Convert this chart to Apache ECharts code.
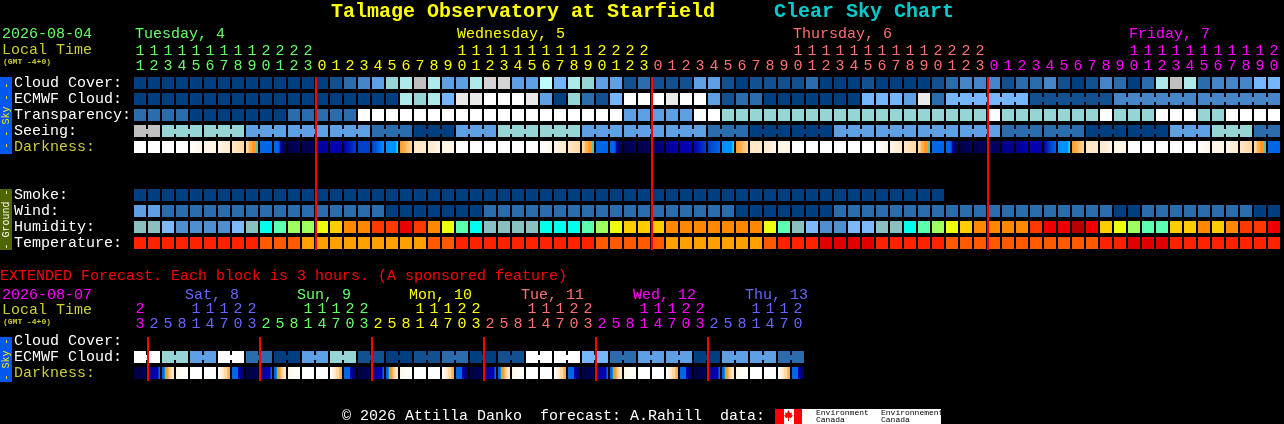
<!DOCTYPE html>
<html><head><meta charset="utf-8">
<style>html,body{margin:0;padding:0;background:#000;overflow:hidden}#c{width:1284px;height:424px}</style>
<script src="https://cdn.jsdelivr.net/npm/echarts@6/dist/echarts.min.js"></script>
</head><body><div id="c"></div>
<script>
// ---------- data ----------
const hours=[11,12,13,14,15,16,17,18,19,20,21,22,23,
 0,1,2,3,4,5,6,7,8,9,10,11,12,13,14,15,16,17,18,19,20,21,22,23,
 0,1,2,3,4,5,6,7,8,9,10,11,12,13,14,15,16,17,18,19,20,21,22,23,
 0,1,2,3,4,5,6,7,8,9,10,11,12,13,14,15,16,17,18,19,20];
const extHours=[23,2,5,8,11,14,17,20,23,2,5,8,11,14,17,20,23,2,5,8,11,14,17,20,23,
 2,5,8,11,14,17,20,23,2,5,8,11,14,17,20,23,2,5,8,11,14,17,20];
const rowLabels=['Cloud Cover:','ECMWF Cloud:','Transparency:','Seeing:','Darkness:','','','Smoke:','Wind:','Humidity:','Temperature:'];
const extRowLabels=['Cloud Cover:','ECMWF Cloud:','Darkness:'];
const dayLabels=['Tuesday, 4','Wednesday, 5','Thursday, 6','Friday, 7'];
const extDayLabels=['Sat, 8','Sun, 9','Mon, 10','Tue, 11','Wed, 12','Thu, 13'];

const cloudCover=[0,0,0,0,0,0,0,0,0,0, 0,0,0,0,1,2,3,4,6,7, 11,7,4,4,7,12,12,4,4,8, 5,7,6,4,4,1,2,1,1,1,
 4,4,1,0,1,1,1,1,2,0, 0,0,1,0,0,0,0,1,2,3, 3,3,1,2,2,3,1,0,1,3, 2,0,2,7,11,7,2,3,3,3,5,5];
const ecmwfCloud=[0,0,0,0,0,0,0,0,0,0, 0,0,0,0,0,0,0,0,0,7, 6,7,5,9,9,10,10,10,9,4, 0,6,2,1,5,10,10,10,9,10,
 10,4,1,2,2,0,0,0,0,0, 0,0,5,5,5,4,9,2,5,5, 5,5,5,5,1,1,1,1,1,1, 3,3,3,3,3,3,3,3,3,3,3,3];
const ecmwfBlocks=[1,1,1,1,1,1,1,1,1,1,1,1,1,1,1,1,1,1,1,1,1,1,1,1,1,1,1,1,1,
 1,1,1,1,1,1,1,1,1,1,1,1,1,1,1,1,1,1,1,1,1,1,1,1,1,1,1,1,1,6,6,6,6];
const transparency=[2,2,2,2,0,0,0,0,0,0, 0,2,2,2,2,2,10,10,10,10, 10,10,10,10,10,10,10,10,10,10, 10,10,10,10,10,4,4,4,4,4,
 10,10,6,6,6,6,6,6,6,6, 6,6,6,6,6,6,6,6,6,6, 6,10,6,6,6,6,6,6,6,10, 6,6,6,10,10,10,6,6,10,10,10,10];
const seeing=[11,11, 6,6,6, 6,6,6, 4,4,4, 4,4,4, 4,4,4, 2,2,2, 0,0,0, 4,4,4, 6,6,6, 6,6,6, 4,4,4, 4,4,4, 4,4,4, 2,2,2,
 0,0,0, 0,0,0, 4,4,4, 4,4,4, 4,4,4, 4,4,4, 2,2,2, 2,2,2, 0,0,0, 0,0,0, 4,4,4, 6,6,6, 2,2];
const seeingBlocks=[2,3,3,3,3,3,3,3,3,3,3,3,3,3,3,3,3,3,3,3,3,3,3,3,3,3,3,2];
const smoke=[0,0,0,0,0,0,0,0,0,0,0,0,0,0,0,0,0,0,0,0,0,0,0,0,0,0,0,0,0,0,0,0,0,0,0,0,0,0,0,0,0,0,0,0,0,0,0,0,0,0,0,0,0,0,0,0,0,0];
const wind=[4,4,2,2,2,2,2,2,2,2, 2,2,2,2,2,2,2,2,0,0, 0,0,0,0,0,2,2,2,2,2, 2,2,2,2,2,2,2,2,2,2,
 2,2,2,0,0,0,0,0,0,0, 2,2,2,2,2,2,2,2,2,2, 2,2,2,2,2,2,2,2,2,2, 0,0,2,2,2,2,2,2,2,2,0,0];
const humidity=[2,2,1,0,0,0,0,1,2,3, 4,5,5,6,7,8,8,9,9,10, 9,8,6,4,3,2,2,2,2,3, 3,3,4,5,6,7,7,7,8,8,
 8,8,8,8,8,6,4,2,1,0, 0,1,1,2,2,3,4,5,6,7, 8,8,8,8,9,10,10,11,10,7, 6,5,4,4,7,7,8,7,8,9,9,10];
const temperature=[1,1,1,1,1,1,1,1,1,2, 2,2,3,3,3,3,3,3,3,3, 3,2,2,1,1,1,1,1,1,1, 1,1,1,2,2,2,2,2,3,3,
 3,3,3,3,3,2,1,1,1,0, 0,0,0,1,1,1,1,1,2,2, 2,2,2,2,2,2,2,2,2,1, 1,0,0,0,1,1,1,1,1,1,1,1];
const duskLight=[3,3,3,4,4,4,5,5,5,5,6,6];
const nightfall=[8,8,8,8,8,9,10,11,12,12,12,12];
const preDawn=[7,7,7,7,7,7,7,7,7,7,6,6];
const darkness=[[0],[0],[0],[0],[0,1],[1],[1,2],[2,3],duskLight,[8],nightfall,[13,12],[13,12],[11,10],[10],[10,9],[9],[9,8,7],preDawn,[5,3],
 [2],[2,1],[1],[0],[0],[0],[0],[0],[0],[0,1],[1,2],[2,3],duskLight,[8],nightfall,[13,12],[13,12],[12,11],[11,10],[10],
 [10,9],[9,8],preDawn,[5,3],[2],[2,1],[1],[0],[0],[0],[0],[0],[0],[0,1],[1,2],[2,3],duskLight,[8],nightfall,[13,12],
 [13,12],[12],[11],[11,10],[10],[10,9,8],preDawn,[5,3],[2],[2,1],[1],[0],[0],[0],[0],[0],[0,1],[1],[1,2],[2,3],duskLight,[8]];
const extEcmwf=[10,10,6,6,4,4,10,10,2,2,0,0,4,4,6,6,1,1,0,0,1,1,2,2,0,0,1,1,10,10,10,10,5,5,2,2,4,4,4,4,0,0,4,4,4,4,2,2];
const extBlocks=[2,2,2,2,2,2,2,2,2,2,2,2,2,2,2,2,2,2,2,2,2,2,2,2];
const eA=[13,13,12],eB=[12,12,11,11,11,10,10,10,10,10,8,8],eC=[8,8,8,6,5,5,4,3,3,2,2,2],eD=[1,0],eE=[0],eF=[0,0,1,1,2,2,3,3,3,4,4,5],eG=[8,8,8,8,8,8,10,10,11,12,12,12];
const extDarkness=[eA,eB,eC,eD,eE,eE,eF,eG, eA,eB,eC,eD,eE,eE,eF,eG, eA,eB,eC,eD,eE,eE,eF,eG, eA,eB,eC,eD,eE,eE,eF,eG, eA,eB,eC,eD,eE,eE,eF,eG, eA,eB,eC,eD,eE,eE,eF,eG];

// ---------- styles ----------
const skyColors=['#003f7f','#13508f','#2b6cad','#4585c8','#5f9fe3','#75b5fb','#95d5d5','#ade9e9','#bdfdfd','#e9e9e9','#ffffff','#c0c0c0','#d4d4d4'];
const humColors=['#4f8fd0','#7fb8f8','#8bc0c0','#00ffee','#5cffb0','#a0ff60','#eeff10','#ffcc00','#ff8800','#ff3800','#ee0000','#b80000'];
const tempColors=['#e00000','#ff2200','#ff5a00','#ffa000'];
const darkColors=['#ffffff','#fff6e8','#ffe8c8','#ffd8a0','#ffb050','#ff9a20','#00ddff','#0090ff','#0066e8','#0040c8','#0000b0','#000090','#000060','#000048'];
const dayColors=['#66ff66','#ffff00','#ff7070','#ff00ff'];
const extDayColors=['#ff00ff','#6666ff','#66ff66','#ffff00','#ff7070','#ff00ff','#6666ff'];
const mono='"Liberation Mono",monospace';
const OLIVE='#cccc33';

function dayIndex(list){let d=0;return list.map((h,i)=>{if(i&&h<list[i-1])d++;return d;});}
function xData(list,cols){const di=dayIndex(list);return list.map((h,i)=>({value:String(h),textStyle:{color:cols[di[i]],align:'center',verticalAlign:'bottom'}}));}
function midnights(list){const r=[];list.forEach((h,i)=>{if(i&&h<list[i-1])r.push([i]);});return r;}
function blockFlags(blocks){const f=[];blocks.forEach(n=>{for(let k=0;k<n;k++)f.push(k<n-1?1:0);});return f;}
function rowData(vals,row,cols,flags){return vals.map((v,i)=>[i,row,cols[v],flags?flags[i]:0]);}
function darkData(vals,row){return vals.map((s,i)=>[i,row,s.join(','),0]);}

function fillOf(v){
  if(v.indexOf(',')<0&&v.charAt(0)==='#')return v;
  const s=v.split(',').map(Number);
  if(s.length===1)return darkColors[s[0]];
  return new echarts.graphic.LinearGradient(0,0,1,0,s.map((k,j)=>({offset:j/(s.length-1),color:darkColors[k]})));
}
function renderCell(p,api){
  const c=api.coord([api.value(0),api.value(1)]);
  const v=String(api.value(2));
  const f=fillOf(v);
  const kids=[{type:'rect',shape:{x:c[0]-6,y:c[1]-6,width:12,height:12},style:{fill:f}}];
  if(api.value(3))kids.push({type:'rect',shape:{x:c[0]+6,y:c[1]-2,width:2,height:5},style:{fill:f}});
  return {type:'group',children:kids};
}
function renderLine(y0,y1){return function(p,api){
  const c=api.coord([api.value(0),0]);
  return {type:'rect',shape:{x:c[0]-7,y:y0,width:2,height:y1-y0},style:{fill:'#ff0000'}};
};}
function cellSeries(data,gi){return {type:'custom',xAxisIndex:gi,yAxisIndex:gi,data:data,renderItem:renderCell,encode:{x:0,y:1},silent:true,animation:false,z:2,dimensions:[{name:'x'},{name:'y'},{name:'v',type:'ordinal'},{name:'b'}]};}
function lineSeries(data,gi,y0,y1){return {type:'custom',xAxisIndex:gi,yAxisIndex:gi,data:data,renderItem:renderLine(y0,y1),encode:{x:0},silent:true,animation:false,z:5};}
function xAxis(list,cols,gi){return {type:'category',gridIndex:gi,position:'top',data:xData(list,cols),axisLine:{show:false},axisTick:{show:false},splitLine:{show:false},
 axisLabel:{interval:0,hideOverlap:false,margin:1,fontFamily:mono,fontSize:15,lineHeight:15,
  formatter:v=>{const h=+v;return (h>=10?Math.floor(h/10):' ')+'\n'+(h%10);}}};}
function yAxis(list,gi){return {type:'category',gridIndex:gi,inverse:true,data:list.map(t=>({value:t,textStyle:{color:t==='Darkness:'?OLIVE:'#ffffff',align:'left',verticalAlign:'middle',padding:[0,0,4,0]}})),axisLine:{show:false},axisTick:{show:false},splitLine:{show:false},
 axisLabel:{interval:0,hideOverlap:false,margin:119,fontFamily:mono,fontSize:15}};}

function txt(x,y,t,fill,size,bold,rot){return {type:'text',x:x,y:y,rotation:rot||0,silent:true,z:10,style:{text:t,fill:fill,font:(bold?'bold ':'')+size+'px '+mono,textAlign:rot?'center':'left',textVerticalAlign:'middle'}};}
function box(x,y,w,h,f){return {type:'rect',silent:true,z:9,shape:{x:x,y:y,width:w,height:h},style:{fill:f}};}
const UP=Math.PI/2;
const dayX=[135,457,793,1129], extDayX=[185,297,409,521,633,745];
const graphic=[
 txt(331,12,'Talmage Observatory at Starfield','#ffff00',20,true),
 txt(774,12,'Clear Sky Chart','#00cccc',20,true),
 txt(2,34,'2026-08-04','#66ff66',15),
 txt(2,50,'Local Time',OLIVE,15),
 txt(3,62,'(GMT -4+0)',OLIVE,8,true),
 txt(0,276,'EXTENDED Forecast. Each block is 3 hours. (A sponsored feature)','#ff0000',15),
 txt(2,295,'2026-08-07','#ff00ff',15),
 txt(2,310,'Local Time',OLIVE,15),
 txt(3,322,'(GMT -4+0)',OLIVE,8,true),
 box(0,77,12,77,'#0058ee'), txt(6,115.5,'- - Sky - -','#ffee00',10,false,UP),
 box(0,189,12,61,'#4f6600'), txt(6,219.5,'- Ground -','#ffffff',10,false,UP),
 box(0,337,12,45,'#0058ee'), txt(6,359.5,'- Sky -','#ffee00',10,false,UP),
 txt(342,416,'© 2026 Attilla Danko  forecast: A.Rahill  data:','#ffffff',15),
 box(775,409,166,15,'#ffffff'), box(775,409,9,15,'#ff0000'), box(794,409,8,15,'#ff0000'),
 {type:'polygon',silent:true,z:10,shape:{points:[[788.5,410],[790,413],[792,412.5],[791.5,415],[793,415.5],[791,418],[789,417.5],[789,421],[788,421],[788,417.5],[786,418],[784,415.5],[785.5,415],[785,412.5],[787,413]]},style:{fill:'#ff0000'}},
 txt(816,412.5,'Environment','#000000',8), txt(816,420,'Canada','#000000',8),
 txt(881,412.5,'Environnement','#000000',8), txt(881,420,'Canada','#000000',8)
];
dayLabels.forEach((t,i)=>graphic.push(txt(dayX[i],34,t,dayColors[i],15)));
extDayLabels.forEach((t,i)=>graphic.push(txt(extDayX[i],295,t,extDayColors[i+1],15)));

const series=[
 cellSeries(rowData(cloudCover,0,skyColors),0),
 cellSeries(rowData(ecmwfCloud,1,skyColors,blockFlags(ecmwfBlocks)),0),
 cellSeries(rowData(transparency,2,skyColors),0),
 cellSeries(rowData(seeing,3,skyColors,blockFlags(seeingBlocks)),0),
 cellSeries(darkData(darkness,4),0),
 cellSeries(rowData(smoke,7,skyColors),0),
 cellSeries(rowData(wind,8,skyColors),0),
 cellSeries(rowData(humidity,9,humColors),0),
 cellSeries(rowData(temperature,10,tempColors),0),
 lineSeries(midnights(hours),0,77,250),
 cellSeries(rowData(extEcmwf,1,skyColors,blockFlags(extBlocks)),1),
 cellSeries(darkData(extDarkness,2),1),
 lineSeries(midnights(extHours),1,337,381)
];
const chart=echarts.init(document.getElementById('c'),null,{renderer:'canvas',width:1284,height:424});
chart.setOption({
 backgroundColor:'#000000',animation:false,tooltip:{show:false},legend:{show:false},
 grid:[{left:133,top:75,width:1148,height:176,containLabel:false,outerBoundsMode:'none'},{left:133,top:333,width:672,height:48,containLabel:false,outerBoundsMode:'none'}],
 xAxis:[xAxis(hours,dayColors,0),xAxis(extHours,extDayColors,1)],
 yAxis:[yAxis(rowLabels,0),yAxis(extRowLabels,1)],
 series:series,graphic:graphic
});
</script></body></html>
